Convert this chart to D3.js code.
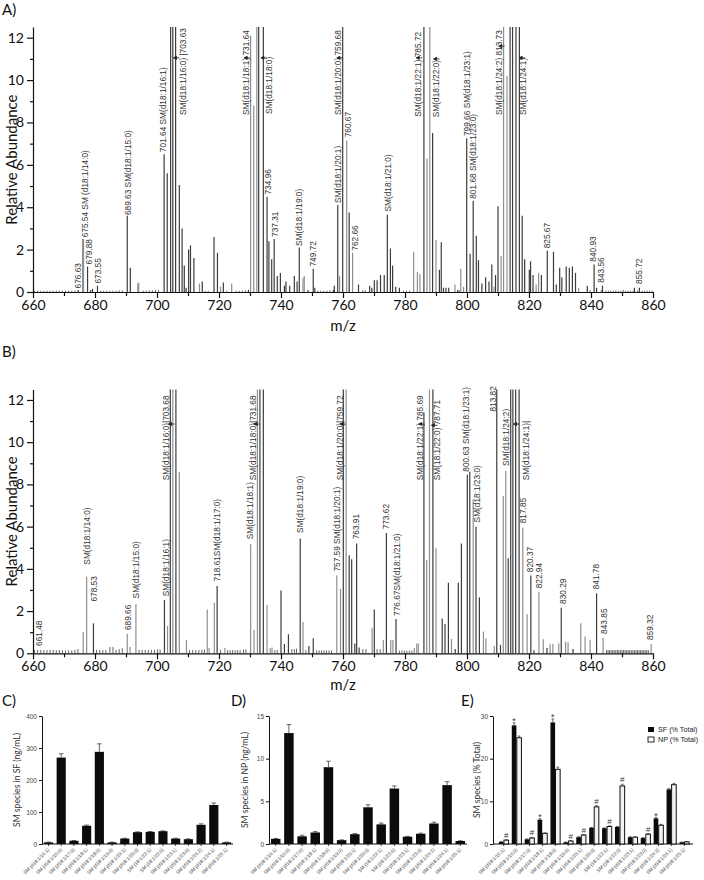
<!DOCTYPE html>
<html><head><meta charset="utf-8">
<script src="https://cdn.jsdelivr.net/npm/d3@7"></script>
<style>body{margin:0;background:#fff;} svg{display:block;}</style>
</head><body><svg id="c" width="704" height="880"></svg>
<script>
// ---------------- DATA ----------------
// Panel A spectrum: two overlaid traces (dark / grey), [m/z, relative abundance]
const specA_dark = [[674.6,0.1],[677.6,1.2],[678.6,0.1],[679.2,0.15],[680.8,0.3],[690.4,3.6],[691.4,1.15],[702.3,6.5],[703.3,5.6],[704.4,60],[705.1,100],[706.0,40],[707.2,5.05],[708.1,3.0],[708.8,1.25],[709.4,0.2],[710.2,2.0],[710.8,2.2],[711.9,1.6],[714.6,0.5],[718.4,2.6],[719.5,1.85],[721.4,0.45],[729.5,0.1],[732.8,50],[734.3,30],[735.5,4.5],[736.1,2.4],[737.0,1.55],[737.8,2.5],[738.8,0.75],[739.8,0.9],[741.1,0.3],[741.6,0.5],[742.8,0.3],[744.3,0.75],[745.2,0.5],[745.9,2.1],[748.7,0.1],[750.4,1.1],[750.9,0.2],[756.9,0.1],[757.2,0.3],[758.3,4.1],[759.9,30],[762.0,3.75],[765.0,0.35],[768.6,0.3],[769.3,0.2],[770.1,0.55],[771.0,0.55],[772.1,0.8],[773.3,0.8],[774.3,3.65],[775.3,2.05],[776.0,1.25],[777.0,0.25],[778.2,0.2],[786.1,40],[788.9,7.5],[791.1,1.05],[791.7,2.35],[792.4,0.2],[793.2,0.2],[794.1,0.2],[797.0,0.1],[799.9,7.25],[801.0,1.8],[802.0,4.3],[803.0,2.65],[803.7,1.5],[804.8,0.4],[806.0,0.7],[807.1,0.5],[808.0,1.3],[809.2,0.8],[810.0,4.05],[813.9,45],[814.7,40],[815.8,30],[816.9,20],[817.8,3.6],[818.6,1.55],[820.1,1.05],[820.5,1.45],[821.3,0.8],[824.0,0.8],[825.9,1.95],[827.9,1.9],[828.8,0.35],[829.9,1.15],[830.6,0.7],[832.0,1.2],[833.0,1.15],[834.0,1.2],[835.0,0.9],[838.8,0.3],[841.0,1.3],[841.8,0.2],[843.7,0.3],[854.0,0.2],[855.6,0.2]];
const specA_grey = [[676.0,2.5],[676.3,2.5],[693.8,0.4],[694.1,0.45],[713.7,0.4],[720.5,0.25],[724.1,0.4],[730.2,12.1],[731.2,8.8],[732.2,50],[747.1,0.65],[747.5,0.75],[758.9,0.75],[761.2,7.15],[763.1,1.85],[766.4,0.1],[767.2,0.1],[782.8,1.9],[784.0,0.95],[784.8,0.85],[787.1,6.3],[788.0,40],[790.0,2.45],[796.1,0.35],[797.5,0.1],[798.0,1.1],[798.9,0.25],[808.7,0.25],[811.0,1.7],[811.8,30],[812.9,10.2],[822.3,0.35],[823.1,0.9],[836.0,0.2],[839.7,0.1],[843.3,0.1]];
const noiseA = [[660.5,0.06],[661.5,0.06],[662.5,0.06],[663.5,0.06],[664.5,0.06],[665.5,0.06],[666.5,0.06],[667.5,0.06],[668.5,0.06],[669.5,0.06],[670.5,0.06],[671.5,0.06],[672.5,0.06],[673.5,0.06],[681.8,0.06],[682.8,0.06],[683.8,0.06],[684.8,0.06],[685.8,0.06],[686.8,0.06],[687.8,0.08],[688.8,0.08],[695.5,0.06],[696.5,0.06],[697.5,0.08],[698.5,0.08],[699.5,0.1],[700.5,0.1],[715.5,0.06],[716.5,0.06],[722.5,0.06],[725.5,0.06],[726.5,0.06],[727.5,0.06],[728.5,0.08],[751.8,0.06],[752.8,0.06],[753.8,0.06],[754.8,0.06],[755.8,0.08],[779.5,0.06],[780.5,0.06],[781.5,0.06],[844.8,0.06],[845.6,0.06],[846.4,0.06],[847.2,0.06],[848.0,0.08],[848.8,0.06],[849.6,0.06],[850.4,0.1],[851.2,0.06],[852.0,0.06],[852.8,0.06],[853.6,0.06],[855.0,0.06],[856.5,0.06],[857.3,0.06],[858.1,0.06],[858.9,0.06],[859.7,0.06]];
const labelsA = [[674.7,0.17,"676.63"],[676.7,2.58,"675.54 SM (d18:1/14:0)"],[678.0,1.3,"679.88"],[680.9,0.4,"673.55"],[690.6,3.63,"689.63 SM(d18:1/15:0)"],[702.0,6.6,"701.64 SM(d18:1/16:1)"],[708.5,8.35,"SM(d18:1/16:0)  |703.63"],[728.9,8.35,"SM(d18:1/18:1)  731.64"],[736.2,8.4,"SM(d18:1/18:0)"],[735.7,4.6,"734.96"],[738.1,2.6,"737.31"],[745.8,2.17,"SM(d18:1/19:0)"],[750.2,1.2,"749.72"],[758.3,4.2,"SM(d18:1/20:1)"],[758.3,8.35,"SM(d18:1/20:0)  759.68"],[761.7,7.3,"760.67"],[763.9,1.95,"762.66"],[774.4,3.8,"SM(d18:1/21:0)"],[784.3,8.27,"SM(d18:1/22:1)  785.72"],[790.0,8.25,"SM(d18:1/22:0)"],[799.9,7.36,"799.66 SM(d18:1/23:1)"],[802.0,4.4,"801.68 SM(d18:1/23:0)"],[810.4,8.35,"SM(d18:1/24:2) 813.73"],[818.0,8.35,"SM(d18:1/24:1)"],[825.7,2.06,"825.67"],[840.8,1.43,"840.93"],[843.4,0.44,"843.56"],[855.5,0.38,"855.72"]];
const arrowsA = [[706.3,11.05],[729.1,11.05],[734.5,11.05],[759.0,11.05],[784.6,11.05],[790.2,11.0],[811.2,11.6],[817.8,11.05]];

// Panel B spectrum
const specB_dark = [[679.5,1.42],[702.4,2.52],[704.3,40],[706.1,40],[719.4,3.19],[733.2,40],[734.3,40],[740.0,2.97],[741.1,0.44],[742.4,0.9],[746.2,5.44],[749.0,0.35],[750.4,0.71],[760.1,40],[762.0,4.65],[762.8,4.46],[763.8,0.47],[764.4,5.2],[765.2,0.28],[770.1,2.08],[774.0,5.7],[777.1,1.62],[786.1,11.4],[789.0,40],[792.0,1.65],[792.9,1.39],[794.0,3.34],[796.2,0.2],[797.2,3.34],[798.2,5.2],[800.1,8.46],[800.9,8.6],[802.9,6.0],[804.0,2.64],[809.6,40],[810.8,0.4],[813.3,4.5],[814.1,40],[814.8,40],[815.7,40],[816.8,40],[820.6,3.68],[821.6,0.15],[825.8,0.25],[830.4,2.16],[834.2,0.2],[841.8,2.84]];
const specB_grey = [[676.2,1.0],[677.3,3.63],[690.4,0.93],[691.3,0.3],[693.2,2.33],[703.4,1.29],[705.1,40],[707.2,8.6],[709.5,0.63],[716.2,2.08],[716.8,0.25],[718.5,2.4],[721.9,0.25],[730.2,5.17],[731.3,1.1],[732.4,40],[735.5,2.29],[736.5,0.24],[737.1,0.28],[747.1,1.48],[758.0,3.7],[759.2,3.05],[761.0,40],[769.4,1.21],[773.0,0.63],[775.4,0.63],[776.1,0.63],[783.0,0.25],[783.8,0.47],[784.3,0.47],[787.0,4.42],[787.9,40],[790.0,4.97],[795.0,0.68],[802.0,7.3],[805.3,1.03],[806.1,0.7],[808.8,0.35],[811.7,7.45],[812.5,8.64],[818.0,5.95],[819.4,1.85],[823.2,2.89],[824.6,0.66],[826.8,0.43],[827.7,0.44],[829.6,0.46],[831.8,0.55],[832.6,0.52],[836.7,1.42],[838.1,0.79],[839.7,0.63],[843.9,0.74],[859.4,0.44]];
const noiseB = [[660.5,0.16],[661.5,0.16],[662.5,0.16],[663.5,0.16],[664.5,0.15],[665.5,0.16],[666.5,0.16],[667.5,0.15],[668.5,0.16],[669.5,0.14],[670.5,0.14],[671.5,0.14],[672.5,0.14],[673.5,0.16],[674.5,0.2],[680.5,0.16],[681.5,0.16],[682.5,0.15],[683.5,0.16],[684.8,0.3],[685.8,0.3],[686.8,0.16],[687.8,0.2],[688.8,0.24],[694.2,0.16],[695.2,0.16],[696.2,0.16],[697.2,0.16],[698.2,0.16],[699.2,0.16],[700.2,0.18],[701.0,0.18],[710.5,0.15],[711.5,0.15],[712.5,0.15],[713.5,0.16],[714.5,0.16],[715.3,0.18],[720.5,0.16],[722.8,0.15],[723.6,0.15],[724.4,0.15],[725.2,0.15],[726.0,0.15],[726.8,0.15],[727.9,0.18],[728.7,0.18],[738.0,0.15],[738.8,0.16],[743.5,0.2],[744.3,0.2],[745.0,0.22],[748.0,0.15],[751.5,0.14],[752.3,0.14],[753.1,0.14],[753.9,0.14],[754.7,0.14],[755.5,0.14],[756.3,0.14],[766.4,0.2],[767.4,0.2],[771.0,0.2],[772.0,0.2],[778.2,0.13],[779.0,0.13],[779.8,0.13],[780.6,0.13],[781.4,0.13],[782.2,0.13],[845.0,0.15],[845.5,0.15],[846.0,0.15],[846.5,0.15],[847.0,0.16],[847.5,0.15],[848.0,0.15],[848.5,0.16],[849.0,0.15],[849.5,0.15],[850.0,0.16],[850.5,0.15],[851.0,0.15],[851.5,0.15],[852.0,0.15],[852.5,0.15],[853.0,0.15],[853.5,0.15],[854.0,0.15],[854.5,0.15],[855.0,0.15],[855.5,0.15],[856.0,0.15],[856.5,0.15],[857.0,0.15],[857.5,0.15],[858.0,0.15],[858.5,0.15]];
const labelsB = [[662.0,0.35,"661.48"],[677.5,4.2,"SM(d18:1/14:0)"],[679.8,2.45,"678.53"],[690.6,1.1,"689.66"],[693.2,2.6,"SM(d18:1/15:0)"],[702.8,2.7,"SM(d18:1/16:1)"],[702.8,8.2,"SM(d18:1/16:0)|703.68"],[719.5,3.4,"718.61SM(d18:1/17:0)"],[730.0,5.4,"SM(d18:1/18:1)"],[731.0,8.2,"SM(d18:1/18:0)|731.68"],[746.1,5.7,"SM(d18:1/19:0)"],[758.0,3.87,"757.59 SM(d18:1/20:1)"],[759.2,8.2,"SM(d18:1/20:0)|759.72"],[764.2,5.4,"763.91"],[773.9,5.87,"773.62"],[777.3,1.77,"776.67SM(d18:1/21:0)"],[784.8,8.2,"SM(d18:1/22:1)  785.69"],[790.2,8.2,"SM(18:1/22:0)  787.71"],[799.7,8.6,"800.63  SM(d18:1/23:1)"],[803.4,6.2,"SM(d18:1/23:0)"],[808.3,11.45,"813.82"],[812.5,8.87,"SM(d18:1/24:2)"],[819.0,8.2,"SM(d18:1/24:1)|"],[818.2,6.16,"817.85"],[820.5,3.84,"820.37"],[823.3,3.08,"822.94"],[830.9,2.34,"830.29"],[841.8,3.03,"841.78"],[844.2,0.92,"843.85"],[859.2,0.63,"859.32"]];
const arrowsB = [[704.7,10.86],[732.2,10.86],[760.0,10.86],[785.4,10.86],[789.5,10.8],[816.0,10.86]];

const mzTicks = [660,680,700,720,740,760,780,800,820,840,860];
const mzMinor = [670,690,710,730,750,770,790,810,830,850];
const abTicks = [0,2,4,6,8,10,12];
const abMinor = [1,3,5,7,9,11];

// Bar panels
const species = ["SM (d18:1/16:1)","SM (d18:1/16:0)","SM (d18:1/17:0)","SM (d18:1/18:1)","SM (d18:1/18:0)","SM (d18:1/19:0)","SM (d18:1/20:1)","SM (d18:1/20:0)","SM (18:1/22:1)","SM (18:1/22:0)","SM (d18:1/23:1)","SM (d18:1/23:0)","SM (d18:1/24:2)","SM (d18:1/24:1)","SM (d18:1/25:1)"];
const sfConc = [5,270,10,57,288,5,17,37,38,40,17,15,60,122,5];
const sfConcErr = [1,12,1,2,25,1,1,1,1,1,1,1,3,6,1];
const npConc = [0.6,13.0,0.9,1.35,9.0,0.45,1.15,4.3,2.3,6.5,0.85,1.2,2.4,6.9,0.35];
const npConcErr = [0.05,1.0,0.12,0.1,0.7,0.03,0.07,0.3,0.15,0.3,0.05,0.07,0.15,0.4,0.03];
const sfPct = [0.5,27.8,1.1,5.7,28.5,0.4,1.6,3.8,3.7,4.0,1.6,1.4,6.0,12.8,0.4];
const sfPctErr = [0.05,0.6,0.1,0.2,0.8,0.05,0.1,0.1,0.1,0.1,0.1,0.1,0.2,0.2,0.05];
const npPct = [0.9,24.9,1.4,2.5,17.5,0.7,2.1,8.7,4.1,13.6,1.6,2.3,4.4,13.9,0.5];
const npPctErr = [0.1,0.4,0.15,0.1,0.5,0.08,0.1,0.3,0.15,0.4,0.08,0.15,0.2,0.3,0.05];
const sfMark = ["","*","","*","*","","","","","","","","*","",""];
const npMark = ["#","","#","","","#","#","#","#","#","","#","","",""];
const concTicksC = [0,100,200,300,400];
const concTicksD = [0,5,10,15];
const pctTicks = [0,10,20,30];

// ---------------- DRAW ----------------
const svg = d3.select("#c");
const FONT = "Lato, 'Liberation Sans', Arial, sans-serif";
const LFONT = "'Liberation Sans', Arial, sans-serif";
const DARK = "#3c3c3c", GREY = "#8f8f8f";
const x = d3.scaleLinear().domain([660,860]).range([33,653]);

function spectrum(letter, letterY, y0, y1, dark, grey, noise, labels, arrows, mzY){
  const y = d3.scaleLinear().domain([0,12.5]).range([y0,y1]).clamp(true);
  const g = svg.append("g");
  svg.append("text").attr("x",2).attr("y",letterY).text(letter)
     .attr("font-family",FONT).attr("font-size",15).attr("fill","#111");
  const drawPeaks = (data,col,w) => g.append("g").selectAll("line").data(data).join("line")
     .attr("x1",d=>x(d[0])).attr("x2",d=>x(d[0]))
     .attr("y1",y(0)).attr("y2",d=>y(d[1]))
     .attr("stroke",col).attr("stroke-width",w);
  drawPeaks(noise,"#555",0.9);
  drawPeaks(grey,GREY,1.2);
  drawPeaks(dark,DARK,1.2);
  // annotations
  g.append("g").selectAll("text").data(labels).join("text")
    .attr("transform",d=>`translate(${x(d[0])},${y(d[1])}) rotate(-90)`)
    .attr("dy","0.35em").attr("text-anchor","start")
    .attr("font-family",LFONT).attr("font-size",8.3).attr("fill","#333")
    .text(d=>d[2]);
  g.append("g").selectAll("path").data(arrows).join("path")
    .attr("d",d=>`M${x(d[0])-3},${y(d[1])} h6 M${x(d[0])-3},${y(d[1])} l3,-1.6 v3.2 z`)
    .attr("stroke","#222").attr("stroke-width",0.8).attr("fill","#222");
  // axes
  g.append("g").attr("transform",`translate(0,${y0})`)
    .call(d3.axisBottom(x).tickValues(mzTicks).tickSize(6).tickSizeOuter(0).tickPadding(2).tickFormat(d3.format("d")));
  g.append("g").attr("transform",`translate(0,${y0})`)
    .call(d3.axisBottom(x).tickValues(mzMinor).tickSize(4).tickFormat(""))
    .select(".domain").remove();
  g.append("g").attr("transform",`translate(33,0)`)
    .call(d3.axisLeft(y).tickValues(abTicks).tickSize(6).tickSizeOuter(0));
  g.append("g").attr("transform",`translate(33,0)`)
    .call(d3.axisLeft(y).tickValues(abMinor).tickSize(3).tickFormat(""))
    .select(".domain").remove();
  g.selectAll(".tick text").attr("font-family",FONT).attr("font-size",14).attr("fill","#111");
  g.selectAll(".domain, .tick line").attr("stroke","#111").attr("stroke-width",1.2);
  g.append("text").attr("transform",`translate(12,${(y0+y1)/2}) rotate(-90)`)
    .attr("text-anchor","middle").attr("dy","0.35em")
    .attr("font-family",FONT).attr("font-size",15).attr("fill","#111").text("Relative Abundance");
  g.append("text").attr("x",343).attr("y",mzY).attr("text-anchor","middle")
    .attr("font-family",FONT).attr("font-size",15).attr("fill","#111").text("m/z");
}
spectrum("A)",15,292,27.1,specA_dark,specA_grey,noiseA,labelsA,arrowsA,331);
spectrum("B)",357,653.3,389.4,specB_dark,specB_grey,noiseB,labelsB,arrowsB,690);

// ---- bar panels ----
const YB = 844, YT = 716;
function barFrame(letter, lx, x0, x1, ymax, ticks, title, tx){
  svg.append("text").attr("x",lx).attr("y",706).text(letter)
     .attr("font-family",FONT).attr("font-size",15).attr("fill","#111");
  const y = d3.scaleLinear().domain([0,ymax]).range([YB,YT]);
  const xb = d3.scaleBand().domain(species).range([x0,x1]);
  const g = svg.append("g");
  g.append("g").attr("transform",`translate(${x0},0)`)
    .call(d3.axisLeft(y).tickValues(ticks).tickSize(3).tickSizeOuter(0).tickPadding(2));
  g.append("line").attr("x1",x0).attr("x2",x1).attr("y1",YB).attr("y2",YB).attr("stroke","#111").attr("stroke-width",1.2);
  g.selectAll(".tick text").attr("font-family",LFONT).attr("font-size",6.5).attr("fill","#444");
  g.selectAll(".domain, .tick line").attr("stroke","#111").attr("stroke-width",1);
  g.append("text").attr("transform",`translate(${tx},${(YB+YT)/2}) rotate(-90)`)
    .attr("text-anchor","middle").attr("dy","0.35em")
    .attr("font-family",FONT).attr("font-size",8.6).attr("fill","#333").text(title);
  return {y, xb, g};
}
function catLabels(g, xb, off){
  g.append("g").selectAll("line").data(species).join("line")
    .attr("x1",d=>xb(d)+xb.bandwidth()/2).attr("x2",d=>xb(d)+xb.bandwidth()/2)
    .attr("y1",YB).attr("y2",YB+2).attr("stroke","#111").attr("stroke-width",0.8);
  g.append("g").selectAll("text").data(species).join("text")
    .attr("transform",d=>`translate(${xb(d)+xb.bandwidth()/2+off},${YB+5}) rotate(-45)`)
    .attr("text-anchor","end").attr("dy","0.35em")
    .attr("font-family",LFONT).attr("font-size",4.8).attr("fill","#444").text(d=>d);
}
function errBars(g, xs, ys, w){
  g.append("g").selectAll("path").data(xs.map((c,i)=>[c,ys[i][0],ys[i][1]])).join("path")
    .attr("d",d=>`M${d[0]},${d[1]}V${d[2]}M${d[0]-w},${d[2]}H${d[0]+w}`)
    .attr("stroke","#555").attr("stroke-width",0.9).attr("fill","none");
}
function simpleBars(letter, lx, x0, x1, ymax, ticks, title, tx, vals, errs){
  const {y, xb, g} = barFrame(letter, lx, x0, x1, ymax, ticks, title, tx);
  xb.paddingInner(0.28).paddingOuter(0.15);
  errBars(g, species.map(s=>xb(s)+xb.bandwidth()/2), vals.map((v,i)=>[y(v),y(v+errs[i])]), 2.3);
  g.append("g").selectAll("rect").data(species).join("rect")
    .attr("x",d=>xb(d)).attr("width",xb.bandwidth())
    .attr("y",(d,i)=>y(vals[i])).attr("height",(d,i)=>YB-y(vals[i]))
    .attr("fill","#0b0b0b");
  catLabels(g, xb, 0);
}
simpleBars("C)", 2, 42, 233, 400, concTicksC, "SM species in SF (ng/mL)", 17, sfConc, sfConcErr);
simpleBars("D)", 231, 269, 467, 15, concTicksD, "SM species in NP (ng/mL)", 245, npConc, npConcErr);

// E: grouped
(function(){
  const {y, xb, g} = barFrame("E)", 461, 493, 693, 30, pctTicks, "SM species (% Total)", 477);
  xb.range([495,693]).paddingInner(0.25).paddingOuter(0.3);
  const sub = d3.scaleBand().domain(["SF","NP"]).range([0,xb.bandwidth()]).paddingInner(0.08);
  const series = [["SF",sfPct,sfPctErr,"#0b0b0b",sfMark],["NP",npPct,npPctErr,"#f2f2f2",npMark]];
  series.forEach(([key,vals,errs,fill,marks])=>{
    const cx = species.map(s=>xb(s)+sub(key)+sub.bandwidth()/2);
    errBars(g, cx, vals.map((v,i)=>[y(v),y(v+errs[i])]), 1.3);
    g.append("g").selectAll("rect").data(species).join("rect")
      .attr("x",d=>xb(d)+sub(key)).attr("width",sub.bandwidth())
      .attr("y",(d,i)=>y(vals[i])).attr("height",(d,i)=>YB-y(vals[i]))
      .attr("fill",fill).attr("stroke","#111").attr("stroke-width",key==="NP"?1:0);
    g.append("g").selectAll("text").data(marks).join("text")
      .attr("x",(d,i)=>cx[i]).attr("y",(d,i)=>y(vals[i]+errs[i])-(d==="*"?-1:2))
      .attr("text-anchor","middle").attr("font-family",LFONT)
      .attr("font-size",d=>d==="*"?9:8).attr("fill","#333").text(d=>d);
  });
  catLabels(g, xb, 0);
  // legend
  const lg = svg.append("g").attr("transform","translate(648,727)");
  lg.append("rect").attr("width",6).attr("height",5).attr("fill","#0b0b0b");
  lg.append("rect").attr("y",10).attr("width",6).attr("height",5).attr("fill","#fff").attr("stroke","#111").attr("stroke-width",0.9);
  lg.append("text").attr("x",10).attr("y",5).text("SF (% Total)").attr("font-family",LFONT).attr("font-size",7.2).attr("fill","#222");
  lg.append("text").attr("x",10).attr("y",15).text("NP (% Total)").attr("font-family",LFONT).attr("font-size",7.2).attr("fill","#222");
})();
</script></body></html>
